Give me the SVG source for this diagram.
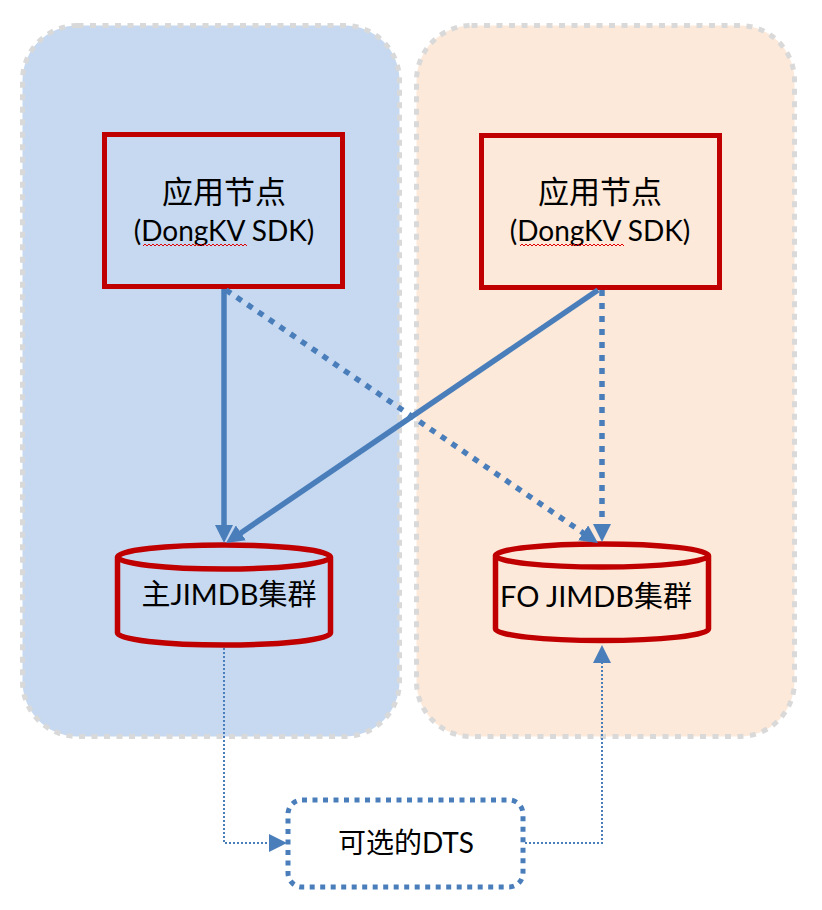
<svg xmlns="http://www.w3.org/2000/svg" width="822" height="910" viewBox="0 0 822 910">
<style>
.zone{stroke:#D9D9D9;stroke-width:5;stroke-dasharray:6 6.5}
.app{fill:none;stroke:#C00000;stroke-width:5}
.cyl{fill:none;stroke:#C00000;stroke-width:5.5}
.t{font-family:Lato,"Liberation Sans","Noto Sans CJK SC",sans-serif;fill:#000;text-anchor:middle}
.thick{fill:none;stroke:#4A7EBB;stroke-width:5.5}
.dot{stroke-dasharray:6 7}
.thin{fill:none;stroke:#4A7EBB;stroke-width:2;stroke-dasharray:2 2}
.squig{fill:none;stroke:#E00000;stroke-width:1}
</style>
<defs>
<marker id="ah" markerUnits="userSpaceOnUse" markerWidth="18" markerHeight="18" viewBox="0 0 18 18" refX="1" refY="9" orient="auto">
<path d="M0,0 L18,9 L0,18 z" fill="#4A7EBB"/>
</marker>
</defs>
<rect width="822" height="910" fill="#FFFFFF"/>
<g id="zone-primary">
<rect class="zone" x="22.5" y="25.5" width="377" height="711" rx="55" fill="#C6D9F0"/>
</g>
<g id="zone-fo">
<rect class="zone" x="416.5" y="25.5" width="378" height="711" rx="55" fill="#FDE9D9"/>
</g>
<g id="app-left">
<rect class="app" x="104.5" y="134.5" width="238" height="152"/>
<text class="t" x="224" y="203" font-size="31">应用节点</text>
<text class="t" x="224" y="241" font-size="28">(DongKV SDK)</text>
<path class="squig" d="M143,246 l2,-2 2,2 2,-2 2,2 2,-2 2,2 2,-2 2,2 2,-2 2,2 2,-2 2,2 2,-2 2,2 2,-2 2,2 2,-2 2,2 2,-2 2,2 2,-2 2,2 2,-2 2,2 2,-2 2,2 2,-2 2,2 2,-2 2,2 2,-2 2,2 2,-2 2,2 2,-2 2,2 2,-2 2,2 2,-2 2,2 2,-2 2,2 2,-2 2,2 2,-2 2,2 2,-2 2,2 2,-2 2,2 2,-2 2,2"/>
</g>
<g id="app-right">
<rect class="app" x="481.5" y="135.5" width="238" height="152"/>
<text class="t" x="600" y="203" font-size="31">应用节点</text>
<text class="t" x="600" y="241" font-size="28">(DongKV SDK)</text>
<path class="squig" d="M520,246 l2,-2 2,2 2,-2 2,2 2,-2 2,2 2,-2 2,2 2,-2 2,2 2,-2 2,2 2,-2 2,2 2,-2 2,2 2,-2 2,2 2,-2 2,2 2,-2 2,2 2,-2 2,2 2,-2 2,2 2,-2 2,2 2,-2 2,2 2,-2 2,2 2,-2 2,2 2,-2 2,2 2,-2 2,2 2,-2 2,2 2,-2 2,2 2,-2 2,2 2,-2 2,2 2,-2 2,2 2,-2 2,2 2,-2 2,2"/>
</g>
<g id="cluster-primary">
<path class="cyl" d="M117.5,557 A106.5,12 0 0 1 330.5,557 A106.5,12 0 0 1 117.5,557 Z M117.5,557 V633 A106.5,12 0 0 0 330.5,633 V557"/>
<text class="t" x="229" y="605" font-size="29">主JIMDB集群</text>
</g>
<g id="cluster-fo">
<path class="cyl" d="M495.5,555.5 A106.5,11.5 0 0 1 708.5,555.5 A106.5,11.5 0 0 1 495.5,555.5 Z M495.5,555.5 V629 A106.5,11.5 0 0 0 708.5,629 V555.5"/>
<text class="t" x="596" y="607" font-size="29">FO JIMDB集群</text>
</g>
<g id="dts">
<rect x="288" y="800" width="235" height="87" rx="14" fill="#FFFFFF" stroke="#4A7EBB" stroke-width="5" stroke-dasharray="5 5.5"/>
<text class="t" x="406" y="853" font-size="28">可选的DTS</text>
</g>
<g id="connectors">
<path class="thick" d="M224,289 V526" marker-end="url(#ah)"/>
<path class="thick" d="M598,290 L240.1,533.4" marker-end="url(#ah)"/>
<path class="thick dot" d="M226,290 L583.9,533.4" marker-end="url(#ah)"/>
<path class="thick dot" d="M602,290 V525" marker-end="url(#ah)"/>
<path class="thin" d="M224,648 V843 H270" marker-end="url(#ah)"/>
<path class="thin" d="M525,843 H602 V662" marker-end="url(#ah)"/>
</g>
</svg>
